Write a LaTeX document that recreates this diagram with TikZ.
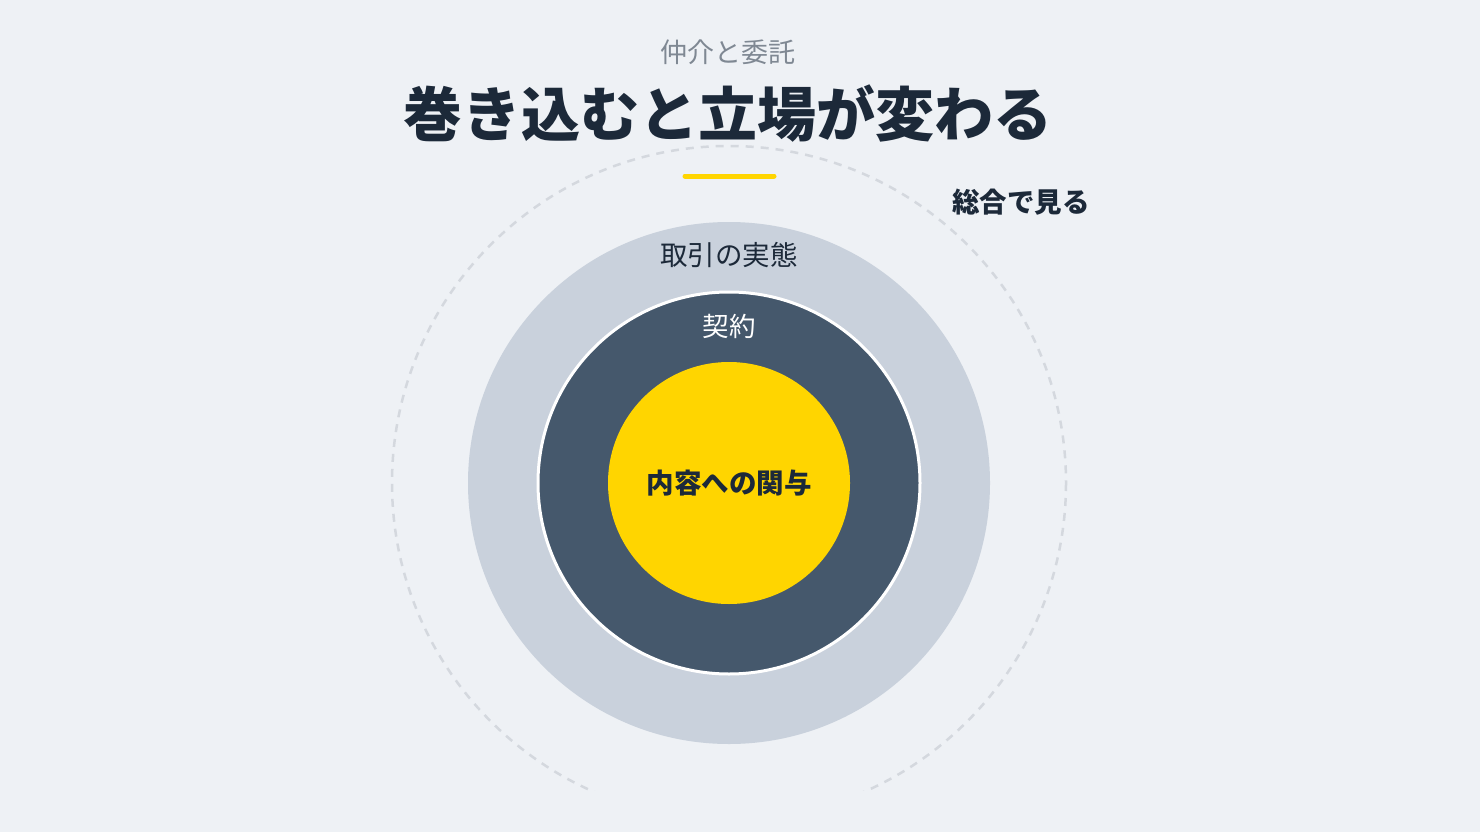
\documentclass[tikz,border=0pt]{standalone}
\usepackage{fontspec}
\newfontfamily\jp{Noto Sans CJK JP}
\definecolor{bg}{HTML}{EEF1F5}
\definecolor{ink}{HTML}{1C2939}
\definecolor{subgray}{HTML}{7F8893}
\definecolor{ringlight}{HTML}{C9D1DC}
\definecolor{ringdark}{HTML}{45586C}
\definecolor{accent}{HTML}{FFD500}
\definecolor{dashgray}{HTML}{D4D8DE}
\tikzset{
  lbl/.style={font=\jp\fontsize{#1}{#1}\selectfont, inner sep=0pt, anchor=center},
}
\begin{document}
\begin{tikzpicture}[x=1pt,y=-1pt]
\fill[bg] (0,0) rectangle (1480,832);
\useasboundingbox (0,0) rectangle (1480,832);
\coordinate (c) at (729,483);
\begin{scope}
\clip (0,0) rectangle (1480,790);
\draw[dashgray, line width=2.5pt, dash pattern=on 8pt off 7pt] (c) circle[radius=337];
\end{scope}
\fill[ringlight] (c) circle[radius=261];
\draw[white, line width=3pt, fill=ringdark] (c) circle[radius=191];
\fill[accent] (c) circle[radius=121];
\node[lbl=27, text=subgray] (sub) at (728,52) {仲介と委託};
\node[lbl=59, text=ink, font=\jp\bfseries\fontsize{59}{59}\selectfont] (title) at (728,114) {巻き込むと立場が変わる};
\draw[accent, line width=5pt, line cap=round] (685,176) -- (774,176);
\node[lbl=27.5, text=ink] (outer) at (729,255) {取引の実態};
\node[lbl=26.5, text=white] (mid) at (729,326) {契約};
\node[lbl=27.5, text=ink, font=\jp\bfseries\fontsize{27.5}{27.5}\selectfont] (core) at (729,483) {内容への関与};
\node[lbl=27.5, text=ink, font=\jp\bfseries\fontsize{27.5}{27.5}\selectfont] (whole) at (1021,202) {総合で見る};
\end{tikzpicture}
\end{document}
